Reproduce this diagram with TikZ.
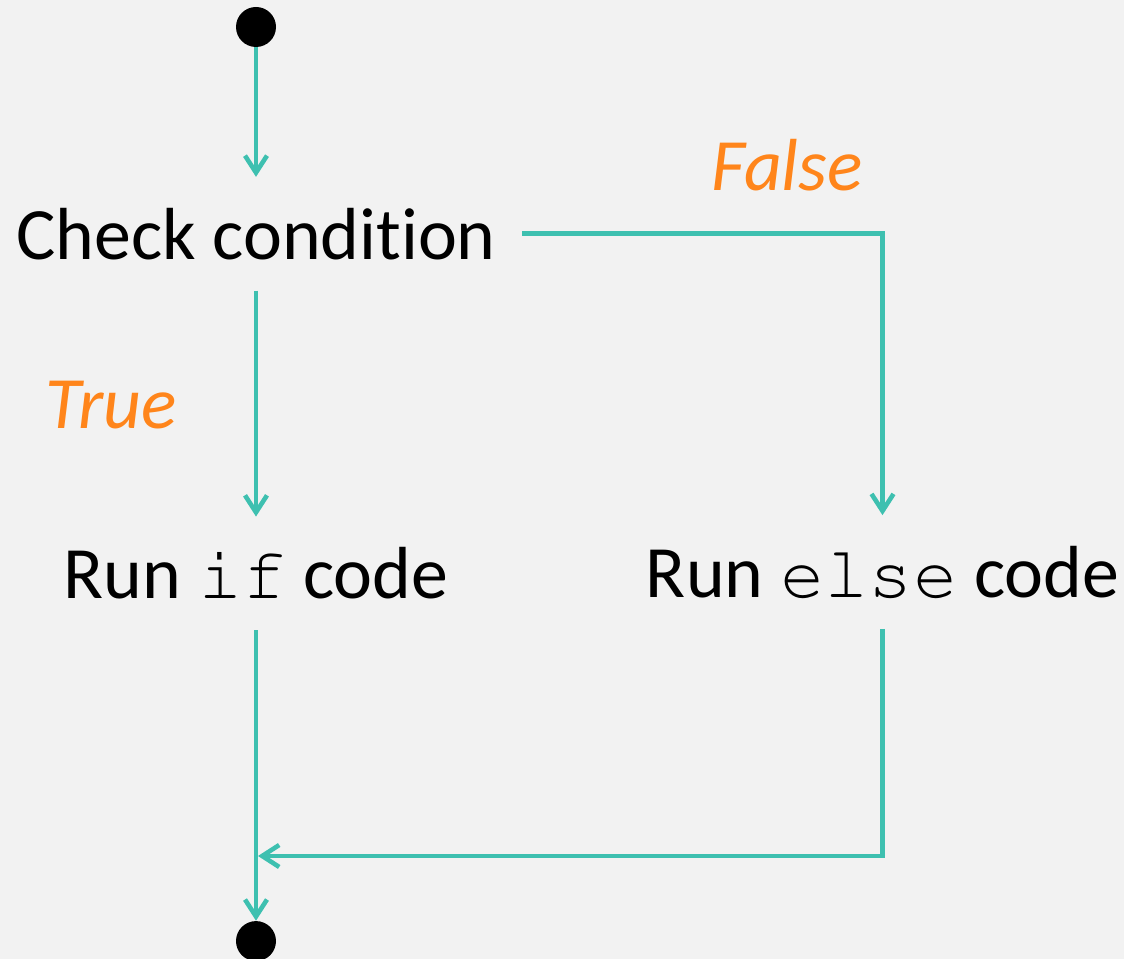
\documentclass[tikz,border=0pt]{standalone}
\usepackage[T1]{fontenc}
\usepackage{fontspec}
\setmainfont{Carlito}[Ligatures={NoCommon,NoRare}]
\newcommand{\kw}[1]{{\fontencoding{T1}\fontfamily{pcr}\selectfont #1}}
\usetikzlibrary{arrows.meta,positioning}
\definecolor{FlowTeal}{RGB}{62,192,176}
\definecolor{LabelOrange}{RGB}{255,133,27}
\definecolor{PaperGrey}{RGB}{242,242,242}
\tikzset{
  terminal/.style={circle,fill=black,minimum size=0.8cm,inner sep=0pt},
  stepbox/.style={minimum height=2.26cm,inner xsep=0.52cm,inner ysep=0pt,
    font=\fontsize{42}{50}\selectfont},
  branch/.style={text=LabelOrange,font=\fontsize{42}{50}\selectfont\itshape},
  flow/.style={-{Straight Barb[length=0.34cm,width=0.44cm]},line width=2.6pt,FlowTeal}
}

\begin{document}
\begin{tikzpicture}[node distance=0pt]
  \path[use as bounding box,fill=PaperGrey] (0,0) rectangle (22.48,19.18);
  \node[terminal] (start) at (5.12,18.64) {};
  \node[stepbox,below=2.59cm of start] (check) {Check condition};
  \node[stepbox,below=4.52cm of check] (runif) {Run \kw{if} code};
  \node[stepbox] (runelse) at (17.65,7.74) {Run \kw{else} code};
  \node[terminal,below=5.81cm of runif] (stop) {};
  \node[branch] (falselbl) at (15.74,15.88) {False};
  \node[branch] (truelbl) at (2.22,11.08) {True};
  \coordinate (merge) at (5.16,2.06);

  \draw[flow] (start) -- (check);
  \draw[flow] (check) -- (runif);
  \draw[flow] (check.east) -| (runelse);
  \draw[flow] (runif) -- (stop);
  \draw[flow] (runelse) |- (merge);
\end{tikzpicture}
\end{document}
